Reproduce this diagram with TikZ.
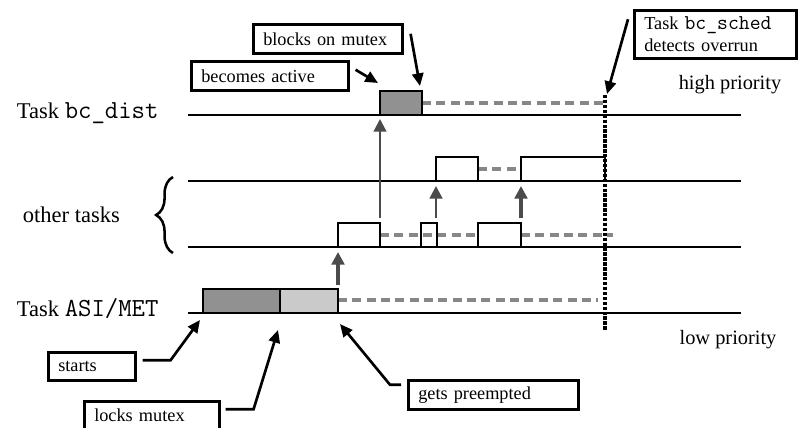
\documentclass[tikz,border=0pt]{standalone}
\usepackage{fontspec}
\setmainfont{Liberation Serif}
\usetikzlibrary{arrows.meta,decorations.pathreplacing}

\definecolor{darkblock}{RGB}{145,145,145}
\definecolor{lightblock}{RGB}{202,202,202}
\definecolor{waitgray}{RGB}{135,135,135}
\definecolor{wakegray}{RGB}{75,75,75}

% monospaced task names, scaled to match the serif text
\newcommand{\bigcode}[1]{{\fontsize{18.5}{20}\selectfont\ttfamily #1}}
\newcommand{\boxcode}[1]{{\fontsize{15}{16}\selectfont\ttfamily #1}}

\tikzset{
  timeline/.style={black, line width=1.5pt},
  pulse/.style={black, line width=1.8pt},
  waiting/.style={waitgray, line width=2.6pt, dash pattern=on 6.4pt off 3.8pt},
  overrun/.style={black, line width=2.2pt, dash pattern=on 2.4pt off 1.1pt},
  callout/.style={draw, line width=1.8pt, anchor=north west, align=left,
    inner xsep=0.25cm, inner ysep=0pt, font=\fontsize{13}{15.5}\selectfont},
  pointer/.style={black, line width=1.9pt, -{Triangle[length=9pt,width=8pt]}},
  wakeup/.style={wakegray, line width=1.6pt, -{Triangle[length=9pt,width=9pt]}},
  tasklabel/.style={anchor=west, font=\fontsize{16}{18}\selectfont},
  prio/.style={font=\fontsize{14.5}{17}\selectfont},
}

\begin{document}
\begin{tikzpicture}[x=0.025cm,y=-0.025cm]
\useasboundingbox (0,0) rectangle (801,427);

% task names
\node[tasklabel] (dist) at (12,113) {Task \bigcode{bc\_dist}};
\node[tasklabel] (others) at (18,215) {other tasks};
\node[tasklabel] (asimet) at (12,309) {Task \bigcode{ASI/MET}};
\draw[line width=1.8pt, decorate, decoration={brace, amplitude=12pt}] (173,253) -- (173,177);

% time lines
\draw[timeline] (188,115) -- (741,115);
\draw[timeline] (188,181) -- (741,181);
\draw[timeline] (188,247) -- (741,247);
\draw[timeline] (188,313) -- (741,313);

% waiting (ready but not running)
\draw[waiting] (338,300) -- (598,300);
\draw[waiting] (380,235) -- (478,235);
\draw[waiting] (521,235) -- (613,235);
\draw[waiting] (478,169) -- (521,169);
\draw[waiting] (422,103) -- (605,103);

% running
\filldraw[pulse, fill=darkblock] (203,313) rectangle (280,289);
\filldraw[pulse, fill=lightblock] (280,313) rectangle (338,289);
\filldraw[pulse, fill=darkblock] (380,115) rectangle (422,91);
\draw[pulse] (338,247) |- (380,223) -- (380,247);
\draw[pulse] (421,247) |- (437,223) -- (437,247);
\draw[pulse] (478,247) |- (521,223) -- (521,247);
\draw[pulse] (436,181) |- (478,157) -- (478,181);
\draw[pulse] (521,181) |- (605,157) -- (605,181);

% overrun instant
\coordinate (ovTop) at (605,95);
\coordinate (ovBot) at (605,331);
\draw[overrun] (ovTop) -- (ovBot);

% preemptions
\coordinate (w1a) at (338,285); \coordinate (w1b) at (338,252);
\coordinate (w2a) at (380,218); \coordinate (w2b) at (380,119);
\coordinate (w3a) at (436,218); \coordinate (w3b) at (436,186);
\coordinate (w4a) at (521,218); \coordinate (w4b) at (521,186);
\draw[wakeup, line width=3pt] (w1a) -- (w1b);
\draw[wakeup] (w2a) -- (w2b);
\draw[wakeup, line width=2pt] (w3a) -- (w3b);
\draw[wakeup, line width=3pt] (w4a) -- (w4b);

% callouts
\node[callout, text width=3.425cm, minimum height=0.725cm] (active) at (190,60) {becomes active};
\node[callout, text width=3.225cm, minimum height=0.725cm] (blocks) at (252,23) {blocks on mutex};
\node[callout, text width=3.55cm, minimum height=1.2cm] (sched) at (633,9)
  {Task \boxcode{bc\_sched}\\detects overrun};
\node[callout, text width=1.675cm, minimum height=0.7cm] (starts) at (47,351) {starts};
\node[callout, text width=2.875cm, minimum height=0.7cm] (locks) at (83,400) {locks mutex};
\node[callout, text width=3.75cm, minimum height=0.725cm] (preempt) at (407,379) {gets preempted};

\node[prio] (high) at (730,85) {high priority};
\node[prio] (low) at (728,340) {low priority};

\coordinate (tActive) at (378,83);
\coordinate (tBlocks) at (420,86);
\coordinate (tSched) at (607,94);
\coordinate (tStarts) at (200,320);
\coordinate (tLocks) at (278,330);
\coordinate (tPreempt) at (340,324);
\draw[pointer] ([shift={(6,-6)}]active.east) -- (tActive);
\draw[pointer] ([shift={(7,-5)}]blocks.east) -- (tBlocks);
\draw[pointer] ([shift={(-5,-15)}]sched.west) -- (tSched);
\draw[pointer] ([shift={(6,-6)}]starts.east) -- ++(28,0) -- (tStarts);
\draw[pointer] ([shift={(5,-6)}]locks.east) -- ++(28,0) -- (tLocks);
\draw[pointer] ([shift={(-6,-10)}]preempt.west) -- ++(-11,0) -- (tPreempt);
\end{tikzpicture}
\end{document}
